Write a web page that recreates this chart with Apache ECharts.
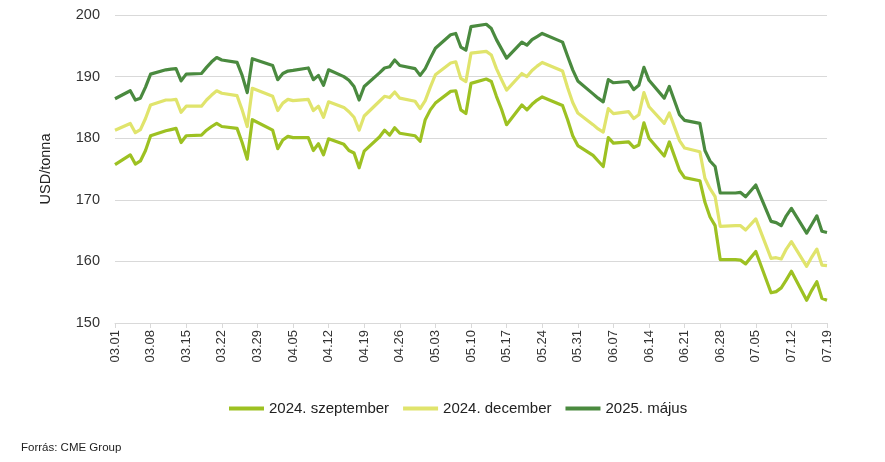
<!DOCTYPE html>
<html>
<head>
<meta charset="utf-8">
<script src="https://cdn.jsdelivr.net/npm/echarts@6/dist/echarts.min.js"></script>
<style>
html,body{margin:0;padding:0;background:#fff;}
#chart{width:885px;height:462px;}
</style>
</head>
<body>
<div id="chart"></div>
<script>
// Trading days (2024)
var dates = [
'03.01','03.04','03.05','03.06','03.07','03.08',
'03.11','03.12','03.13','03.14','03.15',
'03.18','03.19','03.20','03.21','03.22',
'03.25','03.26','03.27','03.28',
'04.01','04.02','04.03','04.04','04.05',
'04.08','04.09','04.10','04.11','04.12',
'04.15','04.16','04.17','04.18','04.19',
'04.22','04.23','04.24','04.25','04.26',
'04.29','04.30','05.01','05.02','05.03',
'05.06','05.07','05.08','05.09','05.10',
'05.13','05.14','05.15','05.16','05.17',
'05.20','05.21','05.22','05.23','05.24',
'05.28','05.29','05.30','05.31',
'06.03','06.04','06.05','06.06','06.07',
'06.10','06.11','06.12','06.13','06.14',
'06.17','06.18','06.20','06.21',
'06.24','06.25','06.26','06.27','06.28',
'07.01','07.02','07.03','07.05',
'07.08','07.09','07.10','07.11','07.12',
'07.15','07.16','07.17','07.18','07.19'
];

var sept2024 = [
175.7,177.3,175.8,176.3,178.0,180.4,
181.2,181.4,181.6,179.3,180.4,
180.5,181.3,181.9,182.4,181.9,
181.6,179.3,176.6,183.0,
181.3,178.3,179.7,180.3,180.1,
180.1,178.0,179.1,177.3,179.9,
179.0,178.0,177.6,175.2,177.9,
180.2,181.3,180.5,181.7,180.8,
180.4,179.5,183.0,184.6,185.7,
187.6,187.7,184.6,184.0,188.9,
189.6,189.2,186.8,184.7,182.2,
185.4,184.6,185.5,186.2,186.7,
185.3,183.0,180.4,178.8,
177.2,176.3,175.4,180.1,179.2,
179.4,178.5,178.9,182.5,180.0,
177.1,179.4,174.8,173.6,
173.1,169.6,167.2,165.8,160.3,
160.3,160.2,159.6,161.6,
154.9,155.1,155.7,157.0,158.4,
153.7,155.3,156.7,154.0,153.7
];

var dec2024 = [
181.3,182.4,180.9,181.4,183.2,185.4,
186.2,186.2,186.3,184.2,185.2,
185.2,186.2,187.0,187.7,187.3,
186.9,184.6,181.9,188.1,
186.8,184.5,185.7,186.3,186.1,
186.3,184.5,185.2,183.4,185.9,
185.0,184.3,183.4,181.3,183.6,
186.0,186.8,186.6,187.5,186.5,
186.0,184.8,186.1,188.3,190.3,
192.2,192.4,189.7,189.2,193.8,
194.1,193.5,191.3,189.5,187.8,
190.5,190.0,191.0,191.7,192.3,
190.9,188.2,185.8,184.1,
182.2,181.5,181.0,184.8,184.0,
184.3,183.2,183.8,187.4,185.1,
182.4,184.1,179.6,178.4,
177.8,173.5,171.8,170.5,165.7,
165.8,165.8,165.1,166.9,
160.5,160.6,160.4,162.0,163.2,
159.2,160.7,162.0,159.4,159.3
];

var may2025 = [
186.4,187.7,186.2,186.5,188.3,190.4,
191.1,191.2,191.3,189.3,190.4,
190.5,191.5,192.4,193.1,192.7,
192.3,190.2,187.4,192.9,
191.8,189.5,190.5,190.9,191.0,
191.4,189.5,190.2,188.6,191.1,
190.0,189.4,188.4,186.2,188.4,
190.6,191.4,191.6,192.7,191.8,
191.3,190.2,191.3,193.0,194.6,
196.8,197.0,194.8,194.3,198.1,
198.5,197.8,196.0,194.5,193.0,
195.6,195.1,196.0,196.5,197.0,
195.6,193.3,191.1,189.3,
187.2,186.5,185.9,189.5,189.0,
189.2,187.9,188.6,191.5,189.4,
186.5,188.4,183.8,182.9,
182.4,178.0,176.3,175.4,171.1,
171.1,171.2,170.5,172.4,
166.5,166.3,165.8,167.4,168.6,
164.6,166.0,167.4,164.9,164.7
];

var tickLabels = ['03.01','03.08','03.15','03.22','03.29','04.05','04.12','04.19','04.26','05.03','05.10','05.17','05.24','05.31','06.07','06.14','06.21','06.28','07.05','07.12','07.19'];

var seriesNames = ['2024. szeptember','2024. december','2025. május'];
var seriesColors = ['#9dc122','#e0e46c','#4a8a3f'];

function dayOffset(s){
  var p = s.split('.');
  return (Date.UTC(2024, +p[0]-1, +p[1]) - Date.UTC(2024, 2, 1)) / 86400000;
}
function pairs(vals){
  return dates.map(function(d,i){ return [dayOffset(d), vals[i]]; });
}
var lastDay = dayOffset(tickLabels[tickLabels.length-1]);

var chart = echarts.init(document.getElementById('chart'), null, {renderer:'canvas'});
var font = '"Liberation Sans", Arial, sans-serif';
chart.setOption({
  animation:false,
  backgroundColor:'#ffffff',
  textStyle:{fontFamily:font},
  grid:{left:115, right:58, top:15, bottom:139},
  xAxis:{
    type:'value', min:0, max:lastDay, interval:7,
    axisLine:{show:true, lineStyle:{color:'#d9d9d9', width:1}},
    axisTick:{show:true, length:5, lineStyle:{color:'#d9d9d9'}},
    splitLine:{show:false},
    axisLabel:{
      rotate:90, fontSize:13, color:'#333', margin:7, fontFamily:font,
      formatter:function(v){ return tickLabels[Math.round(v/7)] || ''; }
    }
  },
  yAxis:{
    type:'value', min:150, max:200, interval:10,
    name:'USD/tonna', nameLocation:'middle', nameRotate:90, nameGap:62,
    nameTextStyle:{fontSize:14.5, color:'#222', fontFamily:font},
    axisLine:{show:false}, axisTick:{show:false},
    splitLine:{lineStyle:{color:'#d9d9d9', width:1}},
    axisLabel:{fontSize:14.5, color:'#333', margin:15, fontFamily:font}
  },
  legend:{
    left:224, top:396, icon:'rect', itemWidth:35, itemHeight:4, itemGap:14,
    textStyle:{fontSize:15, color:'#222', fontFamily:font},
    data:seriesNames
  },
  graphic:[{
    type:'text', left:21, top:442,
    style:{text:'Forrás: CME Group', fontSize:11.5, fill:'#222', fontFamily:font}
  }],
  series:[sept2024, dec2024, may2025].map(function(vals, k){
    return {
      name:seriesNames[k], type:'line', data:pairs(vals),
      showSymbol:false, symbol:'none',
      lineStyle:{color:seriesColors[k], width:3.2, join:'round'},
      itemStyle:{color:seriesColors[k]}
    };
  })
});
</script>
</body>
</html>
